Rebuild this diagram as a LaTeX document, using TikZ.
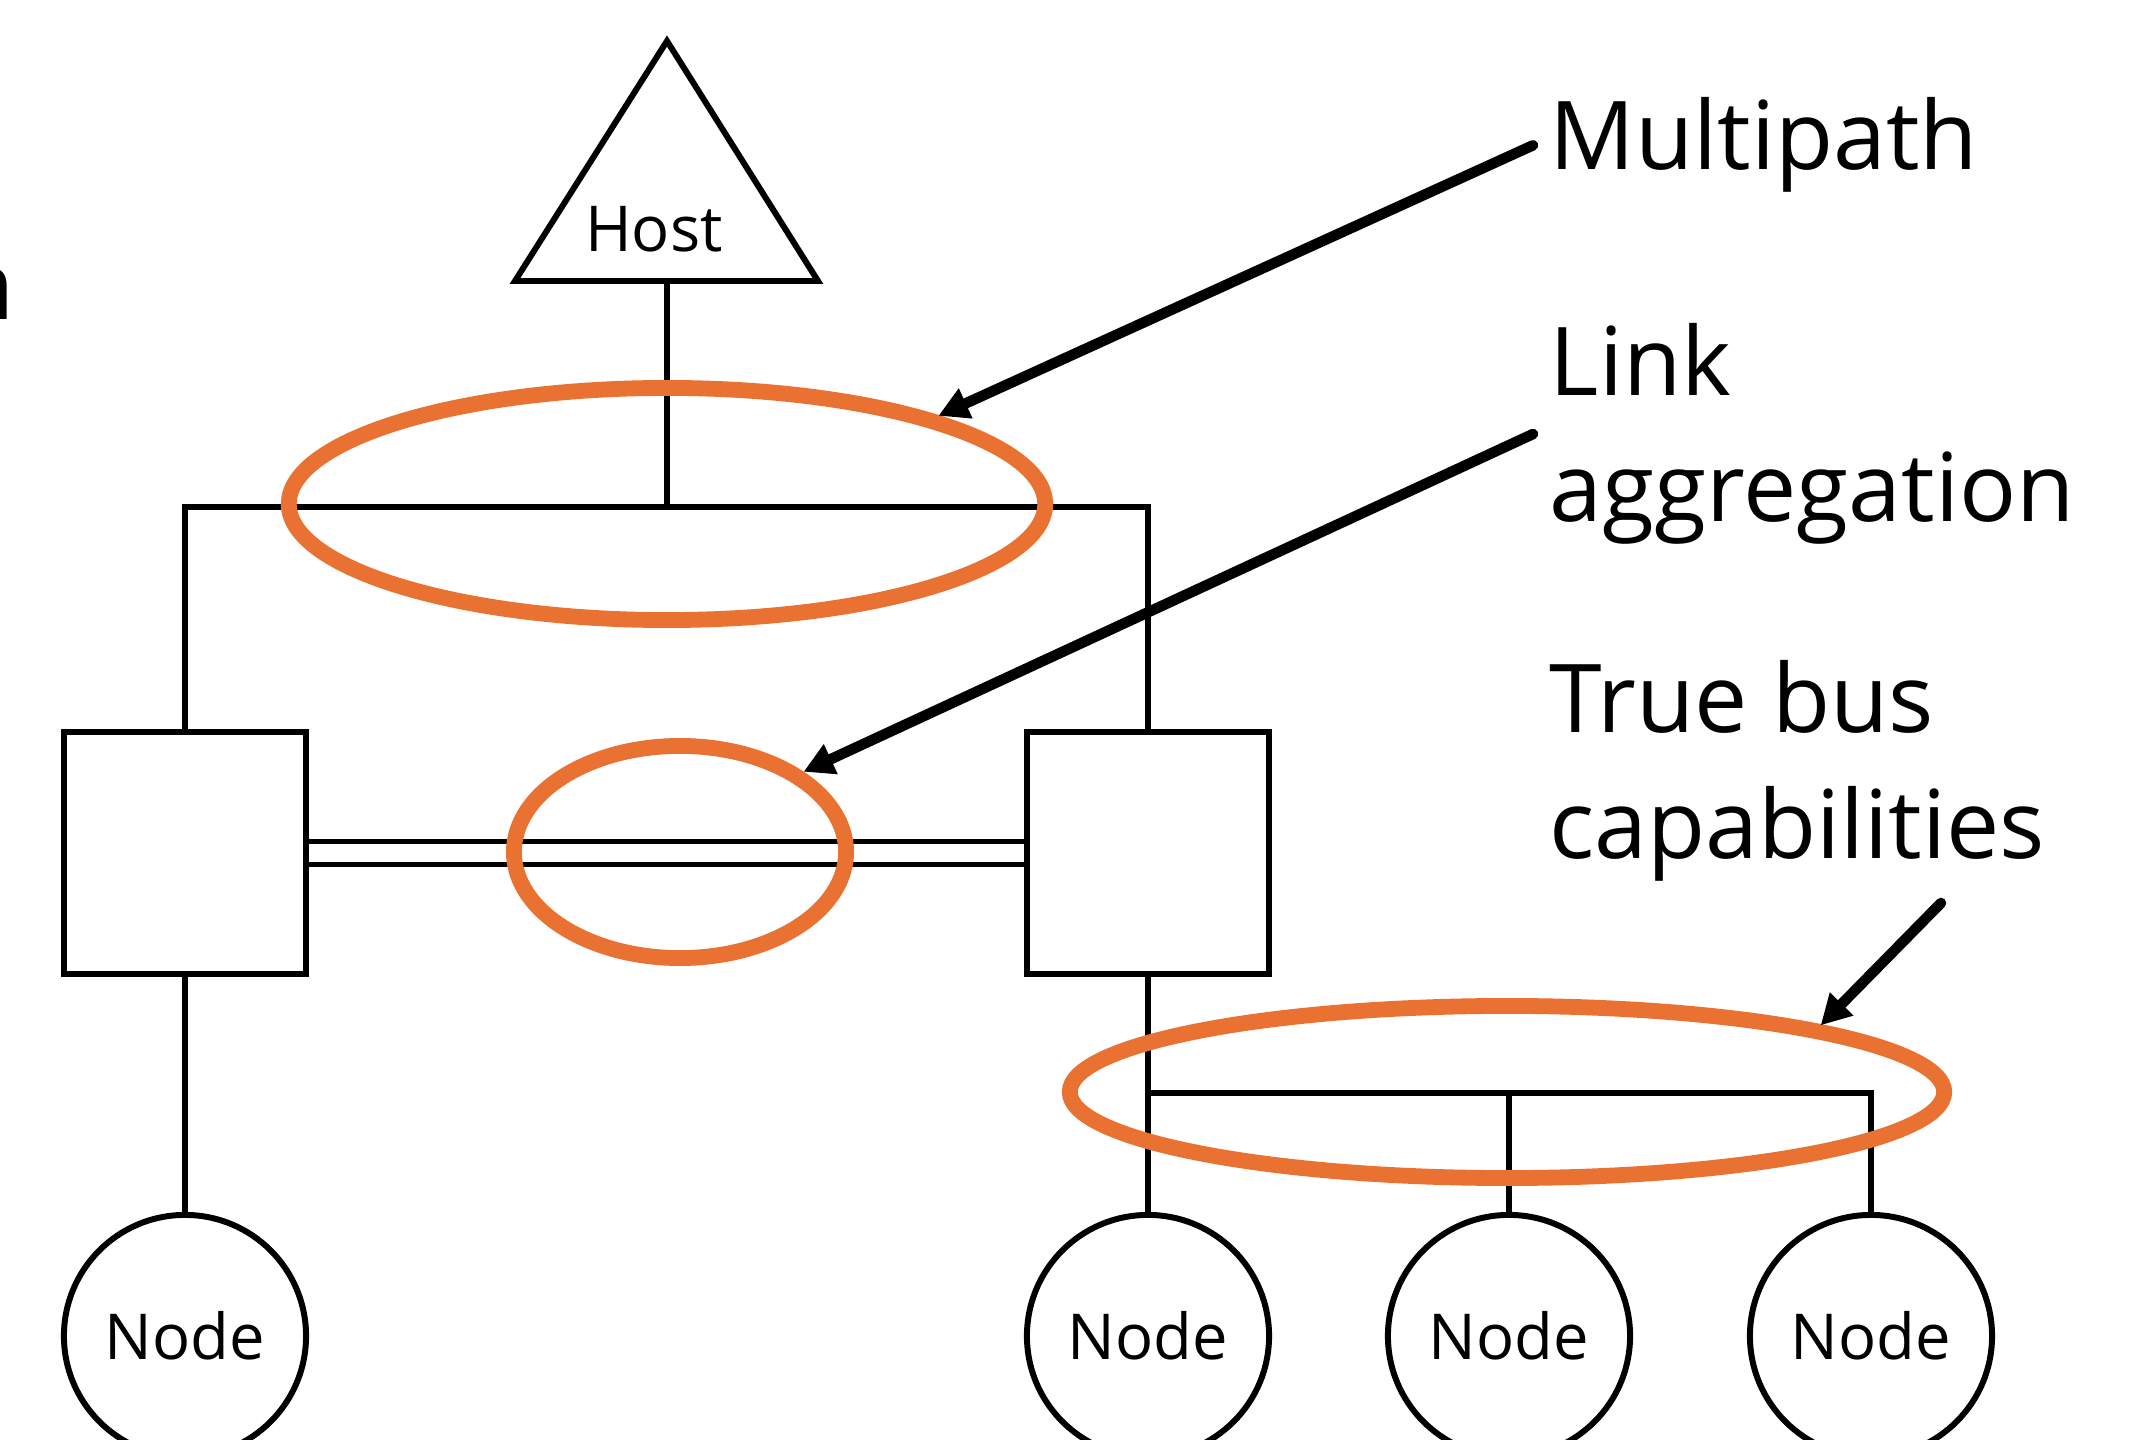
\documentclass[tikz,border=0pt]{standalone}
\usepackage{fontspec}
\setmainfont{Open Sans}
\usetikzlibrary{shapes.geometric, arrows.meta, positioning}
\definecolor{hlorange}{RGB}{233,113,50}

\begin{document}
\begin{tikzpicture}[x=0.01cm, y=-0.01cm,
  wire/.style={line width=1.7pt},
  swbox/.style={draw, line width=1.7pt, minimum size=2.41cm, inner sep=0},
  endpt/.style={draw, circle, line width=1.7pt, minimum size=2.42cm, inner sep=0, font=\fontsize{18}{22}\selectfont},
  hl/.style={draw=hlorange, ellipse, line width=4.5pt, inner sep=0},
  lbl/.style={inner sep=0, inner xsep=0.16cm, align=left, font=\fontsize{27}{36}\selectfont},
  ptr/.style={-{Triangle[length=0.3cm, width=0.31cm]}, line width=3pt, line cap=round}]
\useasboundingbox (0,0) rectangle (2138,1440);

% Host
\coordinate (hostTop) at (667,41);
\coordinate (hostBase) at (667,281);
\draw[wire] (515,281) -- (hostTop) -- (818,281) -- cycle;
\node[inner sep=0, anchor=base, font=\fontsize{18}{22}\selectfont] (host) at (654,252) {Host};

% Switches and end nodes
\node[swbox] (swL) at (185,853) {};
\node[swbox] (swR) at (1148,853) {};
\node[endpt] (nd1) at (185,1336) {Node};
\node[endpt] (nd2) at (1148,1336) {Node};
\node[endpt] (nd3) at (1509,1336) {Node};
\node[endpt] (nd4) at (1871,1336) {Node};

% Wires
\coordinate (bar) at (667,507);
\coordinate (bus) at (1509,1093);
\draw[wire] (hostBase) -- (bar);
\draw[wire] (swL.north) |- (bar) -| (swR.north);
\draw[wire, double, double distance=0.17cm] (swL) -- (swR);
\draw[wire] (swL) -- (nd1);
\draw[wire] (swR) -- (nd2);
\draw[wire] (nd2.north |- bus) -| (nd4.north);
\draw[wire] (bus) -- (nd3);

% Highlights
\node[hl, minimum width=7.56cm, minimum height=2.32cm] (mp) at (667,504) {};
\node[hl, minimum width=3.32cm, minimum height=2.12cm] (la) at (680,852) {};
\node[hl, minimum width=8.74cm, minimum height=1.72cm] (tb) at (1507,1092) {};

% Labels
\node[inner sep=0, anchor=base east, font=\fontsize{27}{36}\selectfont] (cutoff) at (15,320) {n};
\node[lbl, anchor=base west] (mpLbl) at (1533,170) {Multipath};
\node[lbl, anchor=base west] (laLbl) at (1533,522) {Link\\aggregation};
\node[lbl, anchor=base west] (tbLbl) at (1533,859) {True bus\\capabilities};
\coordinate (tbFrom) at (1941,903);

% Arrows
\draw[ptr] (mpLbl.west) -- (mp.18);
\draw[ptr] (laLbl.west) -- (la.33);
\draw[ptr] (tbFrom) -- (tb.12);
\end{tikzpicture}
\end{document}
